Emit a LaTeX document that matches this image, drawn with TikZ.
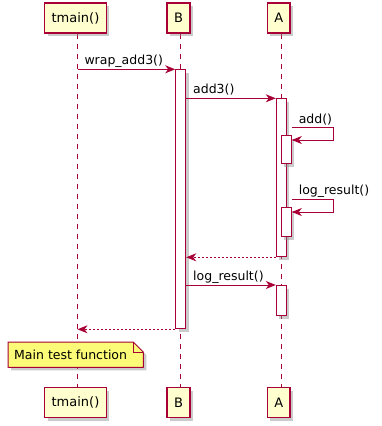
\documentclass[tikz,border=0pt]{standalone}
\usepackage{fontspec}
\setmainfont{DejaVu Sans}
\usetikzlibrary{arrows.meta,positioning,calc,shadows,backgrounds}
\definecolor{umlred}{RGB}{168,0,54}
\definecolor{umlhead}{RGB}{254,254,206}
\definecolor{umlnote}{RGB}{251,251,119}

\begin{document}
\begin{tikzpicture}[
    x=1pt, y=1pt,
    node distance=353pt,
    umlshadow/.style={drop shadow={shadow xshift=3pt, shadow yshift=-3pt, fill=black!45, opacity=0.45}},
    partbox/.style={rectangle, draw=umlred, line width=1.5pt, fill=umlhead, minimum height=30pt,
                 inner xsep=7pt, inner ysep=0pt, font=\fontsize{13}{15}\selectfont, umlshadow},
    actbox/.style={rectangle, draw=umlred, line width=1pt, fill=white, minimum width=10pt,
                 inner sep=0pt, anchor=north, umlshadow},
    lifeline/.style={draw=umlred, line width=1pt, dash pattern=on 5pt off 5pt},
    msg/.style={draw=umlred, line width=1pt, -{Stealth[length=10pt, width=8pt, inset=3pt, umlred]}},
    ret/.style={msg, dash pattern=on 2pt off 2pt},
    msglbl/.style={anchor=base west, inner sep=0pt, xshift=6.5pt, yshift=4.5pt,
                 font=\fontsize{12.5}{15}\selectfont, text=black},
    notebox/.style={draw=umlred, line width=1pt, fill=umlnote, umlshadow}
]
\useasboundingbox (0,0) rectangle (381,-426);
% participants, head and foot
\node[partbox] (tmTop) at (75.5,-18) {tmain()};
\node[partbox] (bTop) at (178.5,-18) {B};
\node[partbox] (aTop) at (278.7,-18) {A};
\node[partbox, below=of tmTop] (tmBot) {tmain()};
\node[partbox, below=of bTop] (bBot) {B};
\node[partbox, below=of aTop] (aBot) {A};
\coordinate (xT) at (77.5,0);
\coordinate (xB) at (180.7,0);
\coordinate (xA) at (281.3,0);
\begin{scope}[on background layer]
\draw[lifeline] (xT |- tmTop.south) -- (xT |- tmBot.north);
\draw[lifeline] (xB |- bTop.south) -- (xB |- bBot.north);
\draw[lifeline] (xA |- aTop.south) -- (xA |- aBot.north);
\end{scope}
% activations
\node[actbox, minimum height=259pt] (actB) at (180.7,-69.3) {};
\node[actbox, minimum height=158pt] (actA1) at (281.3,-98.3) {};
\node[actbox, minimum height=28pt] (actA2) at (286.3,-135) {};
\node[actbox, minimum height=29pt] (actA3) at (286.3,-207) {};
\node[actbox, minimum height=30pt] (actA4) at (281.3,-285) {};
% messages
\draw[msg] (xT |- actB.north) -- (actB.north west) node[msglbl, at start] {wrap\_add3()};
\draw[msg] (actB.east |- actA1.north) -- (actA1.north west) node[msglbl, at start] {add3()};
\draw[msg] ($(actA2.north east)+(0,7.5)$) -- ++(42,0) node[msglbl, at start] {add()}
    -- ++(0,-12.5) -- ($(actA2.north east)+(0,-5)$);
\draw[msg] ($(actA3.north east)+(0,8)$) -- ++(42,0) node[msglbl, at start] {log\_result()}
    -- ++(0,-13) -- ($(actA3.north east)+(0,-5)$);
\draw[ret] (actA1.south west) -- (actB.east |- actA1.south);
\draw[msg] (actB.east |- actA4.north) -- (actA4.north west) node[msglbl, at start] {log\_result()};
\draw[ret] (actB.south west) -- (xT |- actB.south);
% note
\node[anchor=north west, minimum height=25pt, inner xsep=6pt, inner ysep=0pt,
      font=\fontsize{12.5}{15}\selectfont] (note) at (8,-342) {Main test function};
\begin{scope}[on background layer]
\draw[notebox] (note.north west) -- (note.north east) -- ($(note.north east)+(10,-10)$)
    -- ($(note.south east)+(10,0)$) -- (note.south west) -- cycle;
\end{scope}
\draw[umlred, line width=1pt] (note.north east) -- ++(0,-10) -- ++(10,0);
\end{tikzpicture}
\end{document}
